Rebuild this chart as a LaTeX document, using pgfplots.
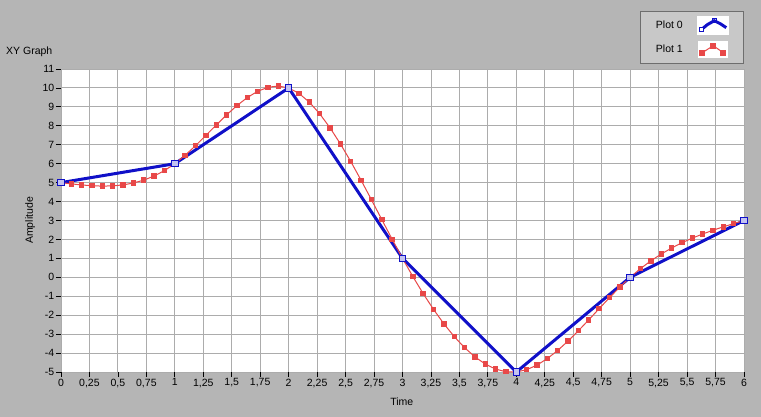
\documentclass[border=0pt]{standalone}
\usepackage{fontspec}
\setmainfont{Liberation Sans}
\usepackage{pgfplots}
\pgfplotsset{compat=1.18}

\definecolor{panel}{RGB}{181,181,181}
\definecolor{legendbg}{RGB}{200,200,200}
\definecolor{legendframe}{RGB}{110,110,110}
\definecolor{gridgray}{RGB}{172,172,172}
\definecolor{plotblue}{RGB}{16,16,200}
\definecolor{plotred}{RGB}{232,72,72}

\begin{document}
\begin{tikzpicture}[font=\fontsize{10.5}{12.6}\selectfont]
\path[use as bounding box, fill=panel] (0pt,0pt) rectangle (761pt,417pt);
\node[anchor=base west, inner sep=0pt] at (6pt,362pt) {XY Graph};
\begin{axis}[
  at={(61pt,45pt)}, anchor=south west,
  scale only axis, width=683pt, height=303pt,
  xmin=0, xmax=6, ymin=-5, ymax=11,
  xtick={0,0.25,0.5,0.75,1,1.25,1.5,1.75,2,2.25,2.5,2.75,3,3.25,3.5,3.75,4,4.25,4.5,4.75,5,5.25,5.5,5.75,6},
  ytick={-5,-4,-3,-2,-1,0,1,2,3,4,5,6,7,8,9,10,11},
  /pgf/number format/use comma,
  /pgf/number format/assume math mode=true,
  axis background/.style={fill=white},
  axis line style={draw=none},
  grid=major,
  major grid style={draw=gridgray, line width=0.9pt},
  tick align=outside,
  xtick pos=bottom, ytick pos=left,
  major tick length=5pt,
  tick style={black, line width=0.8pt},
  xticklabel style={inner sep=1.5pt},
  yticklabel style={inner sep=1.5pt},
  xlabel={Time}, ylabel={Amplitude},
  xlabel style={at={(axis description cs:0.499,-0.099)}, anchor=center},
  ylabel style={at={(axis description cs:-0.045,0.5)}, anchor=center},
  legend style={at={(rel axis cs:0.9985,1.1914)}, anchor=north east,
    fill=legendbg, draw=legendframe,
    inner xsep=14pt, inner ysep=5pt, row sep=6pt, column sep=12pt,
    legend plot pos=right, cells={anchor=east}},
  clip=false,
]
\addplot[plotblue, line width=3pt, mark=none,
  legend image code/.code={
    \fill[white] (0pt,-8pt) rectangle (29pt,8pt);
    \draw[plotblue, line width=3pt] (3pt,-4pt) -- (9pt,1pt) -- (16pt,5pt) -- (22pt,2pt) -- (28pt,-2pt);
    \draw[plotblue, line width=1pt, fill=white] (1pt,-6pt) rectangle (5pt,-2pt);
    \draw[plotblue, line width=1pt] (14pt,3pt) rectangle (18pt,7pt);
  }]
  coordinates {(0,5) (1,6) (2,10) (3,1) (4,-5) (5,0) (6,3)};
\addlegendentry{Plot 0}
\addplot[plotred, line width=1pt, mark=square*, mark size=2.2pt,
  mark options={solid, fill=plotred, draw=plotred},
  legend image code/.code={
    \fill[white] (0pt,-8pt) rectangle (29pt,8pt);
    \draw[plotred, line width=1pt] (4pt,-3pt) -- (15pt,4pt) -- (25pt,-3pt);
    \fill[plotred] (1.5pt,-5.5pt) rectangle (6.5pt,-0.5pt);
    \fill[plotred] (12.5pt,1.5pt) rectangle (17.5pt,6.5pt);
    \fill[plotred] (22.5pt,-5.5pt) rectangle (27.5pt,-0.5pt);
  }]
  coordinates {
  (0,5) (0.0909,4.9344) (0.1818,4.8766) (0.2727,4.8345) (0.3636,4.8159) (0.4545,4.8285)
  (0.5455,4.8803) (0.6364,4.9790) (0.7273,5.1325) (0.8182,5.3487) (0.9091,5.6352) (1,6)
  (1.0909,6.4453) (1.1818,6.9511) (1.2727,7.4917) (1.3636,8.0416) (1.4545,8.5752)
  (1.5455,9.0669) (1.6364,9.4910) (1.7273,9.8220) (1.8182,10.0342) (1.9091,10.1021) (2,10)
  (2.0909,9.7104) (2.1818,9.2477) (2.2727,8.6344) (2.3636,7.8929) (2.4545,7.0457)
  (2.5455,6.1152) (2.6364,5.1239) (2.7273,4.0943) (2.8182,3.0488) (2.9091,2.0099) (3,1)
  (3.0909,0.0392) (3.1818,-0.8622) (3.2727,-1.6964) (3.3636,-2.4553) (3.4545,-3.1313)
  (3.5455,-3.7162) (3.6364,-4.2023) (3.7273,-4.5815) (3.8182,-4.8462) (3.9091,-4.9883) (4,-5)
  (4.0909,-4.8777) (4.1818,-4.6349) (4.2727,-4.2899) (4.3636,-3.8603) (4.4545,-3.3644)
  (4.5455,-2.8200) (4.6364,-2.2451) (4.7273,-1.6576) (4.8182,-1.0757) (4.9091,-0.5171) (5,0)
  (5.0909,0.4616) (5.1818,0.8694) (5.2727,1.2284) (5.3636,1.5443) (5.4545,1.8224)
  (5.5455,2.0682) (5.6364,2.2870) (5.7273,2.4841) (5.8182,2.6650) (5.9091,2.8353) (6,3)};
\addlegendentry{Plot 1}
% square markers of Plot 0 on top
\addplot[only marks, mark=square*, mark size=3.2pt,
  mark options={fill=plotblue!25, draw=plotblue, line width=1pt}, forget plot]
  coordinates {(0,5) (1,6) (2,10) (3,1) (4,-5) (5,0) (6,3)};
\end{axis}
\end{tikzpicture}
\end{document}
